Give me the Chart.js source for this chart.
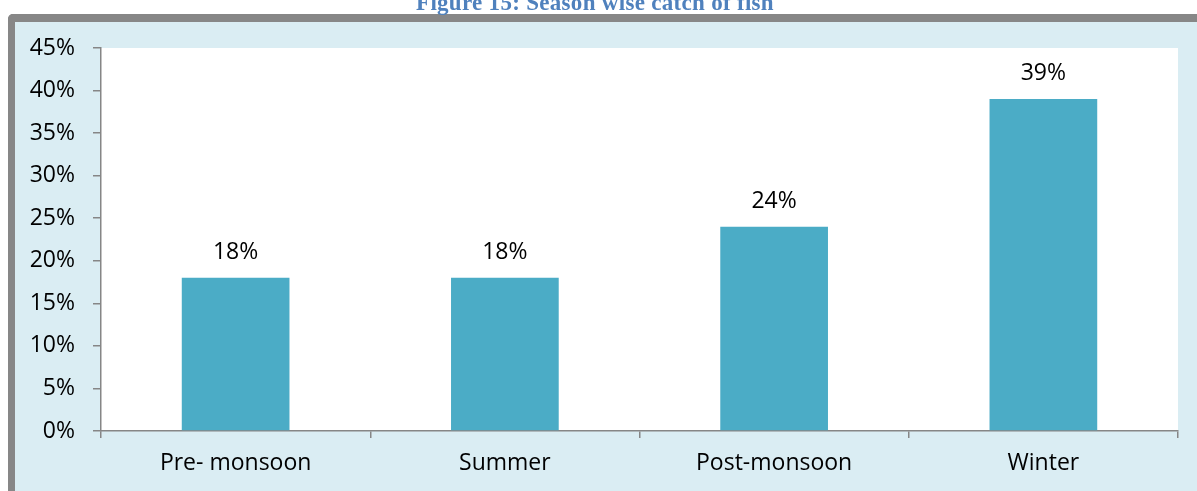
<!DOCTYPE html>
<html>
<head>
<meta charset="utf-8">
<script src="https://cdn.jsdelivr.net/npm/chart.js@4.4.1/dist/chart.umd.min.js"></script>
<style>
  html, body { margin: 0; padding: 0; background: #ffffff; overflow: hidden; }
  #frame {
    position: absolute; left: 8px; top: 14px; width: 1182px; height: 480px;
    background: #daedf3; border-top: 8px solid #878787; border-left: 7px solid #878787;
    border-top-left-radius: 5px;
  }
  #title {
    position: absolute; left: 0; width: 1190px; top: -9px; text-align: center;
    font: bold 23px "Liberation Serif", "DejaVu Serif", serif; line-height: 23px;
    letter-spacing: 0.3px; color: #4f81bd; z-index: 2;
  }
  #wrap { position: absolute; left: 0; top: 0; width: 1197px; height: 491px; z-index: 1; }
</style>
</head>
<body>
<div id="frame"></div>
<div id="title">Figure 15: Season wise catch of fish</div>
<div id="wrap"><canvas id="myChart" width="1197" height="491"></canvas></div>
<script>
var seasons = ['Pre- monsoon', 'Summer', 'Post-monsoon', 'Winter']
var catchShare = [18, 18, 24, 39]
var yTicks = [0, 5, 10, 15, 20, 25, 30, 35, 40, 45]

var plotBg = {
      id: 'plotBg',
      beforeDraw: function (chart) {
            var a = chart.chartArea
            var ctx = chart.ctx
            ctx.save()
            ctx.fillStyle = '#ffffff'
            ctx.fillRect(a.left, a.top, a.right - a.left, a.bottom - a.top)
            ctx.restore()
      }
}

var barLabels = {
      id: 'barLabels',
      afterDatasetsDraw: function (chart) {
            var ctx = chart.ctx
            var meta = chart.getDatasetMeta(0)
            ctx.save()
            ctx.font = '23px "Open Sans"'
            ctx.fillStyle = '#000000'
            ctx.textAlign = 'center'
            ctx.textBaseline = 'alphabetic'
            meta.data.forEach(function (bar, i) {
                  ctx.fillText(catchShare[i] + '%', bar.x, bar.y - 19)
            })
            ctx.restore()
      }
}

var ctx = document.getElementById('myChart')
var myChart = new Chart(ctx, {
      type: 'bar',
      data: {
            labels: seasons,
            datasets: [{
                  data: catchShare,
                  backgroundColor: '#4bacc6',
                  borderWidth: 0,
                  categoryPercentage: 0.4,
                  barPercentage: 1
            }]
      },
      options: {
            animation: false,
            responsive: false,
            layout: { padding: { top: 48, right: 19, left: 0, bottom: 0 } },
            plugins: {
                  legend: { display: false },
                  tooltip: { enabled: false }
            },
            scales: {
                  x: {
                        offset: true,
                        grid: {
                              offset: true,
                              drawOnChartArea: false,
                              drawTicks: true,
                              tickLength: 7,
                              color: '#868686',
                              lineWidth: 1.5
                        },
                        border: { color: '#868686', width: 1.5 },
                        ticks: {
                              color: '#000000',
                              font: { family: 'Open Sans', size: 23 },
                              padding: 12,
                              maxRotation: 0
                        },
                        afterFit: function (scale) { scale.height = 60 }
                  },
                  y: {
                        min: 0,
                        max: 45,
                        afterBuildTicks: function (scale) {
                              scale.ticks = yTicks.map(function (v) { return { value: v } })
                        },
                        grid: {
                              drawOnChartArea: false,
                              drawTicks: true,
                              tickLength: 8,
                              color: '#868686',
                              lineWidth: 1.5
                        },
                        border: { color: '#868686', width: 1.5 },
                        ticks: {
                              color: '#000000',
                              font: { family: 'Open Sans', size: 23 },
                              padding: 18,
                              callback: function (v) { return v + '%' }
                        },
                        afterFit: function (scale) { scale.width = 101 }
                  }
            }
      },
      plugins: [plotBg, barLabels]
})
</script>
</body>
</html>
